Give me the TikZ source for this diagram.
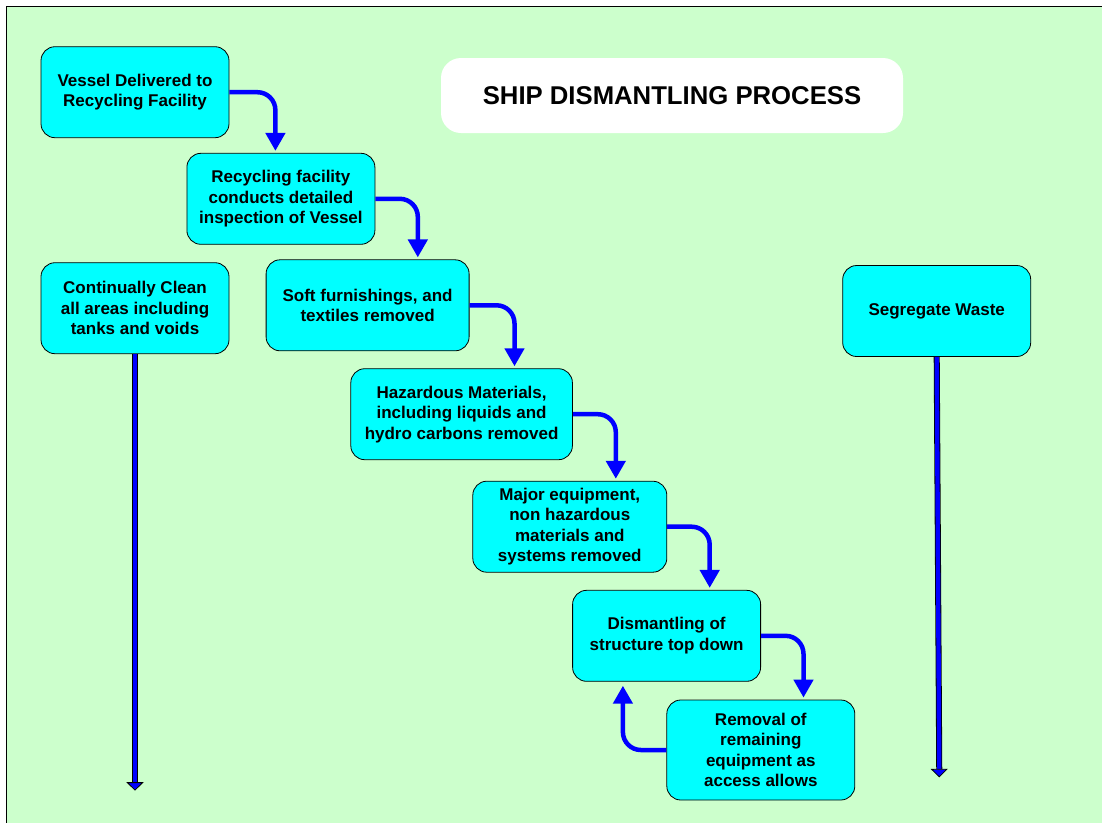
\documentclass[tikz,border=0pt]{standalone}
\usepackage{fontspec}
\setmainfont{Liberation Sans}
\usetikzlibrary{positioning, arrows.meta}
\definecolor{paleground}{HTML}{CCFFCC}
\definecolor{boxcyan}{HTML}{00FFFF}
\definecolor{flowblue}{HTML}{0000FF}

\begin{document}
\begin{tikzpicture}[x=1pt, y=-1pt, node distance = 106pt, auto]
% Define block styles
\tikzstyle{block} = [rectangle, draw, fill=boxcyan, line width=0.8pt,
    align=center, rounded corners=14pt, minimum width=188pt, minimum height=91pt,
    font=\bfseries\fontsize{17}{20.5}\selectfont, inner sep=2pt]
\tikzstyle{heading} = [rectangle, fill=white, rounded corners=20pt,
    minimum width=462pt, minimum height=75pt,
    font=\bfseries\fontsize{25.7}{30}\selectfont]
\tikzstyle{line} = [draw=flowblue, line width=4.5pt, rounded corners=18pt,
    -{Triangle[width=19pt, length=18pt]}, shorten >=2pt]
\tikzstyle{longline} = [draw=black, line width=0.8pt, double=flowblue, double distance=4.4pt,
    -{Triangle[width=17pt, length=8.5pt, fill=flowblue, line width=0.8pt]}]
    % Background
    \useasboundingbox (0,0) rectangle (1102,823);
    \fill [paleground] (6.7,6.7) rectangle (1102,823);
    \draw [line width=0.8pt] (1102,6.7) -- (6.7,6.7) -- (6.7,823);
    % Place nodes
    \node [heading] (title) at (672,95.5) {SHIP DISMANTLING PROCESS};
    \node [block] (vessel) at (135,92.2) {Vessel Delivered to\\Recycling Facility};
    \node [block, below of=vessel, xshift=145.9pt, node distance=106.6pt] (inspect)
        {Recycling facility\\conducts detailed\\inspection of Vessel};
    \node [block, below of=inspect, xshift=86.7pt, node distance=106.5pt, minimum width=203pt] (soft)
        {Soft furnishings, and\\textiles removed};
    \node [block, below of=soft, xshift=94pt, node distance=108.9pt, minimum width=221.6pt] (hazard)
        {Hazardous Materials,\\including liquids and\\hydro carbons removed};
    \node [block, below of=hazard, xshift=108.2pt, node distance=112.5pt, minimum width=194pt] (major)
        {Major equipment,\\non hazardous\\materials and\\systems removed};
    \node [block, below of=major, xshift=96.8pt, node distance=109.1pt] (dismantle)
        {Dismantling of\\structure top down};
    \node [block, below of=dismantle, xshift=94.2pt, node distance=114.2pt, minimum height=100pt] (removal)
        {Removal of\\remaining\\equipment as\\access allows};
    \node [block, below of=vessel, node distance=216pt] (clean)
        {Continually Clean\\all areas including\\tanks and voids};
    \node [block, right of=clean, node distance=801.7pt, yshift=-2.8pt] (segregate) {Segregate Waste};
    \coordinate (cleanend) at (135,790.7);
    \coordinate (segend) at (939.3,777.4);
    % Draw edges
    \path [line] (vessel.east) -| ([xshift=46pt]vessel.east |- inspect.north);
    \path [line] (inspect.east) -| ([xshift=42.5pt]inspect.east |- soft.north);
    \path [line] (soft.east) -| ([xshift=45pt]soft.east |- hazard.north);
    \path [line] (hazard.east) -| ([xshift=43pt]hazard.east |- major.north);
    \path [line] (major.east) -| ([xshift=42.5pt]major.east |- dismantle.north);
    \path [line] (dismantle.east) -| ([xshift=42.5pt]dismantle.east |- removal.north);
    \path [line, shorten >=4pt] (removal.west) -| ([xshift=-43.5pt]removal.west |- dismantle.south);
    \path [longline] (clean.south) -- (cleanend);
    \path [longline] (segregate.south) -- (segend);
\end{tikzpicture}
\end{document}
